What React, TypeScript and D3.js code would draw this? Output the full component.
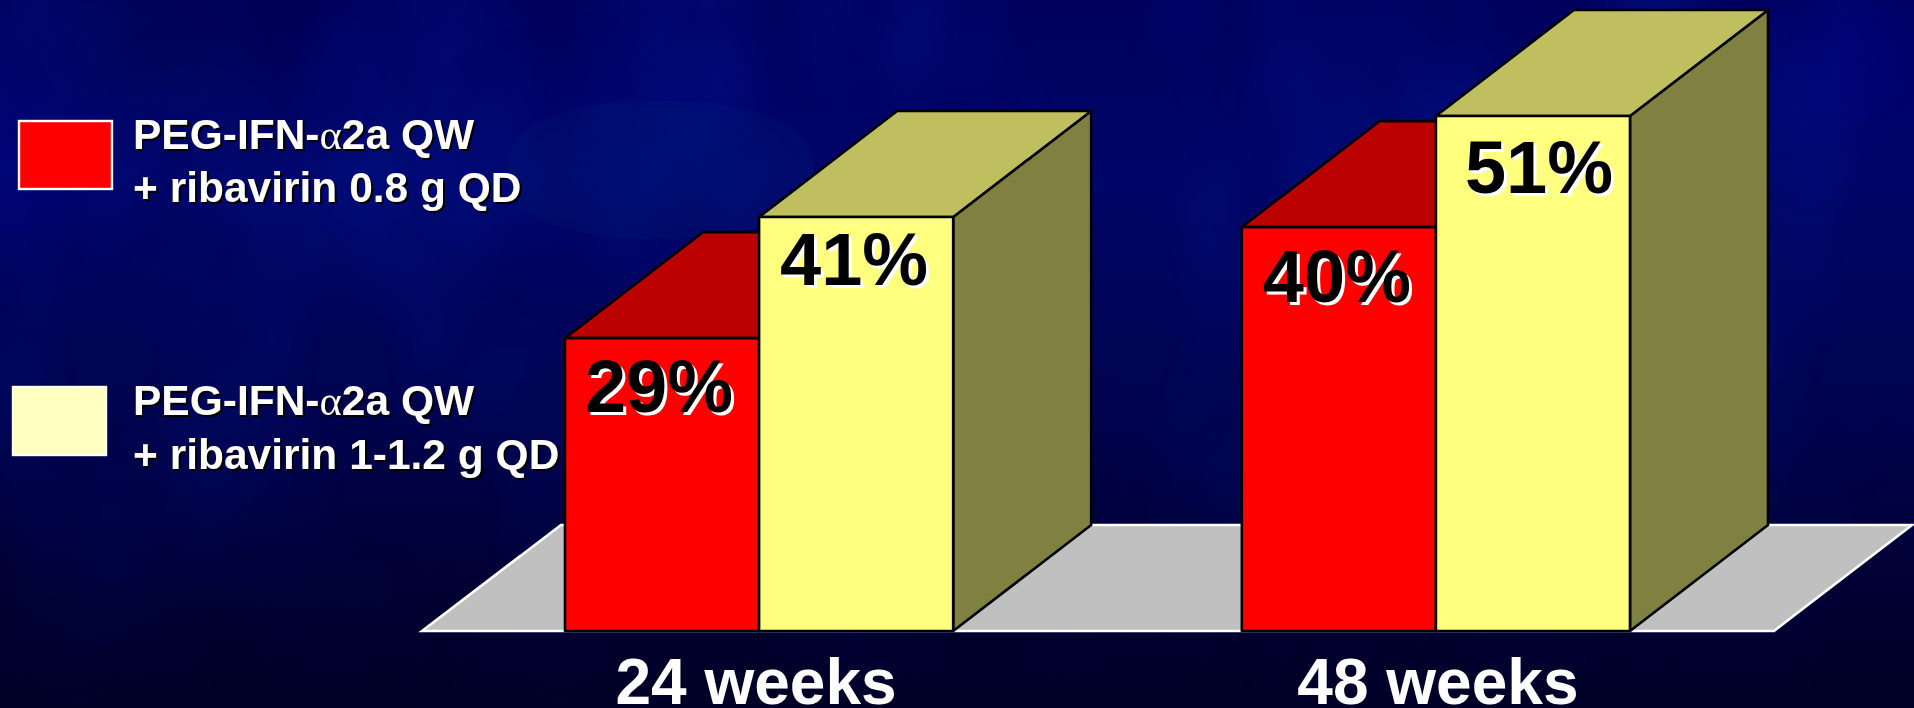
import React from "react";
import * as d3 from "d3";

const categories = ["24 weeks", "48 weeks"];
const seriesNames = ["low", "high"];
const lowDose = [29, 40];
const highDose = [41, 51];
const legendLines = [
  ["PEG-IFN-", "α", "2a QW"],
  ["+ ribavirin 0.8 g QD"],
  ["PEG-IFN-", "α", "2a QW"],
  ["+ ribavirin 1-1.2 g QD"],
];

const W = 1914;
const H = 708;
const SANS = "'Liberation Sans', Arial, sans-serif";
const FRONT = ["#ff0000", "#ffff80"];
const TOP = ["#bb0000", "#bfbf60"];
const SIDE = ["#800000", "#808040"];

const y = d3.scaleLinear().domain([0, 51]).range([631, 116]);
const x0 = d3.scaleBand().domain(categories).range([565, 1630]).paddingInner(0.4265).paddingOuter(0);
const x1 = d3.scaleBand().domain(seriesNames).range([0, x0.bandwidth()]);
const DX = 138;
const DY = 106;
const line = d3.line();

type P = [number, number];
const poly = (pts: P[]) => line(pts) + "Z";

const FLOOR: P[] = [[422, 631], [561, 525], [1912, 525], [1774, 631]];

// Hand placement of each percentage inside its bar: [dx, distance below the bar top].
const labelNudge = [
  [[-3, 74], [-2, 68]],
  [[-2, 75], [6, 77]],
];

function Bar({ cat, i, s }: { cat: string; i: number; s: number }) {
  const v = (s === 0 ? lowDose : highDose)[i];
  const xl = x0(cat)! + x1(seriesNames[s])!;
  const xr = xl + x1.bandwidth();
  const t = y(v);
  const b = y(0);
  return (
    <g stroke="#000" strokeWidth={2.6} strokeLinejoin="round">
      <path d={poly([[xr, t], [xr + DX, t - DY], [xr + DX, b - DY], [xr, b]])} fill={SIDE[s]} />
      <path d={poly([[xl, t], [xl + DX, t - DY], [xr + DX, t - DY], [xr, t]])} fill={TOP[s]} />
      <rect x={xl} y={t} width={xr - xl} height={b - t} fill={FRONT[s]} />
    </g>
  );
}

function ValueLabel({ cat, i, s }: { cat: string; i: number; s: number }) {
  const v = (s === 0 ? lowDose : highDose)[i];
  const xl = x0(cat)! + x1(seriesNames[s])!;
  const [ndx, ndy] = labelNudge[i][s];
  const props = {
    x: xl + x1.bandwidth() / 2 + ndx,
    y: y(v) + ndy,
    textAnchor: "middle" as const,
    fontFamily: SANS,
    fontWeight: 700,
    fontSize: 74,
  };
  return (
    <g>
      <text {...props} dx={3} dy={3} fill="#fff">{v}%</text>
      <text {...props} fill="#000">{v}%</text>
    </g>
  );
}

function LegendLine({ parts, px, py }: { parts: string[]; px: number; py: number }) {
  const content = (
    <>
      {parts.map((p, k) =>
        p === "α" ? (
          <tspan key={k} fontFamily="'Liberation Serif', serif" fontWeight={400}>{p}</tspan>
        ) : (
          <tspan key={k}>{p}</tspan>
        )
      )}
    </>
  );
  const props = { x: px, y: py, fontFamily: SANS, fontWeight: 700, fontSize: 42.5 };
  return (
    <g>
      <text {...props} dx={2} dy={2} fill="#000">{content}</text>
      <text {...props} fill="#fff">{content}</text>
    </g>
  );
}

export default function App() {
  const baselines = [149, 202, 415, 469];
  return (
    <svg
      width={W}
      height={H}
      viewBox={`0 0 ${W} ${H}`}
      style={{ position: "fixed", left: 0, top: 0, display: "block" }}
    >
      <defs>
        <linearGradient id="sky" x1="0" y1="0" x2="0" y2="1">
          <stop offset="0" stopColor="#00005c" />
          <stop offset="0.25" stopColor="#000668" />
          <stop offset="0.62" stopColor="#00034a" />
          <stop offset="0.85" stopColor="#000030" />
          <stop offset="1" stopColor="#000026" />
        </linearGradient>
        <linearGradient id="fade" x1="0" y1="0" x2="0" y2="1">
          <stop offset="0" stopColor="#fff" stopOpacity={0.7} />
          <stop offset="0.55" stopColor="#fff" stopOpacity={0.35} />
          <stop offset="1" stopColor="#fff" stopOpacity={0.03} />
        </linearGradient>
        <mask id="fadeMask">
          <rect width={W} height={H} fill="url(#fade)" />
        </mask>
        {/* Cloudy streaks in the backdrop */}
        <filter id="clouds" x="0" y="0" width="100%" height="100%" colorInterpolationFilters="sRGB">
          <feTurbulence type="fractalNoise" baseFrequency="0.005 0.003" numOctaves={3} seed={7} />
          <feColorMatrix
            type="matrix"
            values="0 0 0 0 0  0 0 0 0 0.08  0 0 0 0 0.56  2.2 0 0 0 -0.9"
          />
        </filter>
        <filter id="soft" x="-60%" y="-60%" width="220%" height="220%">
          <feGaussianBlur stdDeviation="45" />
        </filter>
      </defs>
      <rect width={W} height={H} fill="url(#sky)" />
      <g mask="url(#fadeMask)">
        <rect width={W} height={H} filter="url(#clouds)" />
      </g>
      <g filter="url(#soft)">
        <ellipse cx={170} cy={40} rx={130} ry={50} fill="#000040" opacity={0.6} />
        <ellipse cx={1860} cy={60} rx={70} ry={60} fill="#00007c" opacity={0.7} />
        <ellipse cx={20} cy={165} rx={70} ry={50} fill="#000a88" opacity={0.6} />
        <ellipse cx={660} cy={170} rx={170} ry={70} fill="#04208c" opacity={0.25} />
      </g>
      <path d={poly(FLOOR)} fill="#c0c0c0" stroke="#fff" strokeWidth={2.6} />
      {categories.map((c, i) => (
        <g key={c}>
          <Bar cat={c} i={i} s={0} />
          <Bar cat={c} i={i} s={1} />
          <ValueLabel cat={c} i={i} s={0} />
          <ValueLabel cat={c} i={i} s={1} />
          <text x={x0(c)! + x0.bandwidth() / 2 + (i === 0 ? -3 : 2)} y={704} textAnchor="middle" fontFamily={SANS} fontWeight={700} fontSize={64} fill="#fff">
            {c}
          </text>
        </g>
      ))}
      <rect x={19} y={121} width={93} height={68} fill="#ff0000" stroke="#fff" strokeWidth={2.4} />
      <rect x={13} y={387} width={93} height={68} fill="#ffffc0" stroke="#fff" strokeWidth={2.4} />
      {legendLines.map((l, k) => (
        <LegendLine key={k} parts={l} px={133} py={baselines[k]} />
      ))}
    </svg>
  );
}
